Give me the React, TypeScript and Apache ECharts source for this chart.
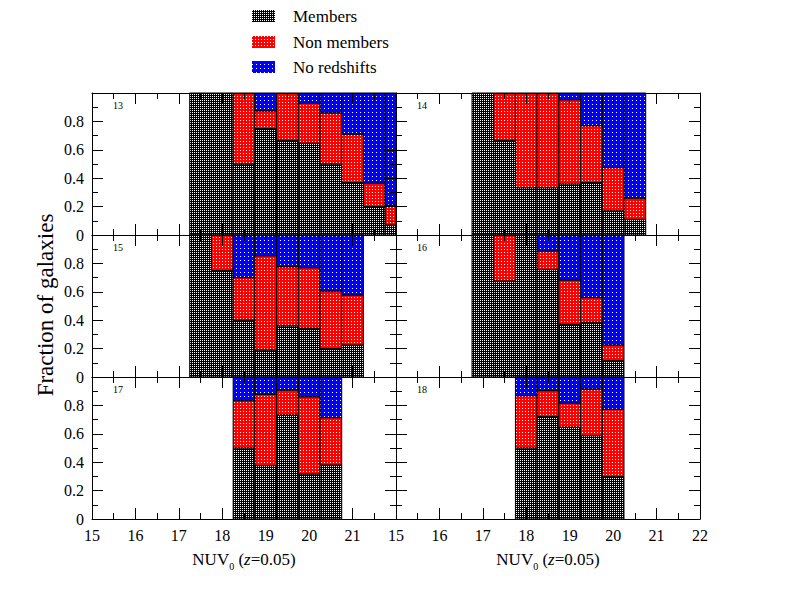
import React, { useEffect, useRef } from 'react';
import * as echarts from 'echarts';

// ---------- data ----------
const CATEGORIES = ['Members', 'Non members', 'No redshifts'];
const PANEL_LABELS = ['13', '14', '15', '16', '17', '18'];
const BIN_WIDTH = 0.5;

const bins13 = [17.5, 18.0, 18.5, 19.0, 19.5, 20.0, 20.5, 21.0, 21.5, 22.0];
const members13 = [1, 1, 0.5, 0.75, 0.667, 0.647, 0.5, 0.37, 0.2, 0.07];
const nonMembers13 = [0, 0, 0.5, 0.125, 0.333, 0.28, 0.36, 0.34, 0.165, 0.14];
const noRedshift13 = [0, 0, 0, 0.125, 0, 0.073, 0.14, 0.29, 0.635, 0.79];

const bins14 = [17.0, 17.5, 18.0, 18.5, 19.0, 19.5, 20.0, 20.5];
const members14 = [1, 0.667, 0.333, 0.333, 0.36, 0.37, 0.17, 0.11];
const nonMembers14 = [0, 0.333, 0.667, 0.667, 0.593, 0.4, 0.305, 0.15];
const noRedshift14 = [0, 0, 0, 0, 0.047, 0.23, 0.525, 0.74];

const bins15 = [17.5, 18.0, 18.5, 19.0, 19.5, 20.0, 20.5, 21.0];
const members15 = [1, 0.75, 0.4, 0.19, 0.36, 0.343, 0.2, 0.225];
const nonMembers15 = [0, 0.25, 0.3, 0.664, 0.417, 0.427, 0.406, 0.352];
const noRedshift15 = [0, 0, 0.3, 0.146, 0.223, 0.23, 0.394, 0.423];

const bins16 = [17.0, 17.5, 18.0, 18.5, 19.0, 19.5, 20.0];
const members16 = [1, 0.676, 1, 0.758, 0.371, 0.385, 0.115];
const nonMembers16 = [0, 0.324, 0, 0.129, 0.312, 0.174, 0.11];
const noRedshift16 = [0, 0, 0, 0.113, 0.317, 0.441, 0.775];

const bins17 = [18.5, 19.0, 19.5, 20.0, 20.5];
const members17 = [0.5, 0.376, 0.732, 0.317, 0.38];
const nonMembers17 = [0.333, 0.502, 0.176, 0.544, 0.334];
const noRedshift17 = [0.167, 0.122, 0.092, 0.139, 0.286];

const bins18 = [18.0, 18.5, 19.0, 19.5, 20.0];
const members18 = [0.5, 0.721, 0.646, 0.587, 0.298];
const nonMembers18 = [0.369, 0.183, 0.169, 0.328, 0.474];
const noRedshift18 = [0.131, 0.096, 0.185, 0.085, 0.228];

const PANELS = [
  { label: PANEL_LABELS[0], bins: bins13, parts: [members13, nonMembers13, noRedshift13] },
  { label: PANEL_LABELS[1], bins: bins14, parts: [members14, nonMembers14, noRedshift14] },
  { label: PANEL_LABELS[2], bins: bins15, parts: [members15, nonMembers15, noRedshift15] },
  { label: PANEL_LABELS[3], bins: bins16, parts: [members16, nonMembers16, noRedshift16] },
  { label: PANEL_LABELS[4], bins: bins17, parts: [members17, nonMembers17, noRedshift17] },
  { label: PANEL_LABELS[5], bins: bins18, parts: [members18, nonMembers18, noRedshift18] },
];

// ---------- layout / style ----------
const FONT = '"Liberation Serif", "Times New Roman", serif';
const GRID_LEFT = [92, 396];
const GRID_TOP = [93, 235, 377];
const GRID_W = 304;
const GRID_H = 142;

function makePattern(bg: string, size: number) {
  const c = document.createElement('canvas');
  c.width = size;
  c.height = size;
  const ctx = c.getContext('2d')!;
  ctx.fillStyle = bg;
  ctx.fillRect(0, 0, size, size);
  ctx.fillStyle = '#ffffff';
  ctx.fillRect(0, 0, 1, 1);
  return { image: c.toDataURL(), repeat: 'repeat', imageWidth: size, imageHeight: size } as any;
}

function buildOption() {
  const patterns = [
    makePattern('#000000', 2),
    makePattern('#ff0000', 3),
    makePattern('#0000ff', 4),
  ];

  const grids: any[] = [];
  const xAxes: any[] = [];
  const yAxes: any[] = [];
  const series: any[] = [];
  const graphics: any[] = [];

  const axisCommon = {
    z: 10,
    axisLine: { show: true, onZero: false, lineStyle: { color: '#000', width: 1 } },
    axisTick: { show: true, inside: true, length: 11, lineStyle: { color: '#000', width: 1 } },
    minorTick: { show: true, splitNumber: 2, length: 6, lineStyle: { color: '#000', width: 1 } },
    splitLine: { show: false },
    minorSplitLine: { show: false },
  };

  PANELS.forEach((p, i) => {
    const row = Math.floor(i / 2);
    const col = i % 2;
    grids.push({ left: GRID_LEFT[col], top: GRID_TOP[row], width: GRID_W, height: GRID_H, containLabel: false });

    xAxes.push({
      ...axisCommon,
      gridIndex: i,
      type: 'value',
      min: 15,
      max: 22,
      interval: 1,
      position: 'bottom',
      axisLabel: {
        show: row === 2,
        showMaxLabel: col === 1,
        color: '#000',
        fontFamily: FONT,
        fontSize: 16,
        margin: 8,
      },
      name: row === 2 ? 'NUV{s|0} ({i|z}=0.05)' : '',
      nameLocation: 'middle',
      nameGap: 28,
      nameTextStyle: {
        color: '#000',
        fontFamily: FONT,
        fontSize: 17,
        rich: {
          s: { fontFamily: FONT, fontSize: 10, color: '#000', verticalAlign: 'bottom', padding: [14, 0, 0, 0] },
          i: { fontFamily: FONT, fontSize: 17, color: '#000', fontStyle: 'italic' },
        },
      },
    });
    xAxes.push({
      ...axisCommon,
      gridIndex: i,
      type: 'value',
      min: 15,
      max: 22,
      interval: 1,
      position: 'top',
      axisLabel: { show: false },
    });
    yAxes.push({
      ...axisCommon,
      gridIndex: i,
      type: 'value',
      min: 0,
      max: 1,
      interval: 0.2,
      position: 'left',
      axisLabel: {
        show: col === 0,
        showMaxLabel: false,
        color: '#000',
        fontFamily: FONT,
        fontSize: 16,
        margin: 8,
      },
    });
    yAxes.push({
      ...axisCommon,
      gridIndex: i,
      type: 'value',
      min: 0,
      max: 1,
      interval: 0.2,
      position: 'right',
      axisLabel: { show: false },
    });

    const data: number[][] = [];
    p.bins.forEach((center, b) => {
      let base = 0;
      p.parts.forEach((arr, cat) => {
        const v = arr[b];
        if (v > 0) {
          data.push([center - BIN_WIDTH / 2, center + BIN_WIDTH / 2, base, base + v, cat]);
        }
        base += v;
      });
    });

    series.push({
      type: 'custom',
      name: 'Panel ' + p.label,
      xAxisIndex: i * 2,
      yAxisIndex: i * 2,
      z: 2,
      encode: { x: [0, 1], y: [2, 3] },
      data,
      renderItem: (params: any, api: any) => {
        const x0 = api.value(0);
        const x1 = api.value(1);
        const y0 = api.value(2);
        const y1 = api.value(3);
        const cat = api.value(4);
        const p0 = api.coord([x0, y0]);
        const p1 = api.coord([x1, y1]);
        const cs = params.coordSys;
        const shape = echarts.graphic.clipRectByRect(
          { x: p0[0], y: p1[1], width: p1[0] - p0[0], height: p0[1] - p1[1] },
          { x: cs.x, y: cs.y, width: cs.width, height: cs.height }
        );
        if (!shape) return null;
        return {
          type: 'rect',
          shape,
          style: { fill: patterns[cat], stroke: '#000', lineWidth: 1 },
        };
      },
    });

    graphics.push({
      type: 'text',
      left: GRID_LEFT[col] + 21,
      top: GRID_TOP[row] + 7,
      z: 20,
      style: { text: p.label, font: '10px ' + FONT, fill: '#000' },
    });
  });

  // legend
  const legendTops = [10, 36, 61];
  CATEGORIES.forEach((name, k) => {
    graphics.push({
      type: 'rect',
      shape: { x: 252, y: legendTops[k], width: 23, height: 12 },
      style: { fill: patterns[k] },
    });
    graphics.push({
      type: 'text',
      x: 293,
      y: legendTops[k] + 6,
      style: { text: name, font: '17px ' + FONT, fill: '#000', textVerticalAlign: 'middle', textAlign: 'left' },
    });
  });

  // y title
  graphics.push({
    type: 'text',
    x: 45,
    y: 305,
    rotation: Math.PI / 2,
    style: {
      text: 'Fraction of galaxies',
      font: '23px ' + FONT,
      fill: '#000',
      textAlign: 'center',
      textVerticalAlign: 'middle',
    },
  });

  return {
    animation: false,
    backgroundColor: '#ffffff',
    grid: grids,
    xAxis: xAxes,
    yAxis: yAxes,
    series,
    graphic: graphics,
  };
}

export default function App() {
  const ref = useRef<HTMLDivElement>(null);
  useEffect(() => {
    if (!ref.current) return;
    const chart = echarts.init(ref.current, undefined, { renderer: 'svg' });
    chart.setOption(buildOption() as any);
    return () => chart.dispose();
  }, []);
  return (
    <div
      ref={ref}
      style={{ position: 'fixed', left: 0, top: 0, width: 792, height: 612, background: '#fff' }}
    />
  );
}
